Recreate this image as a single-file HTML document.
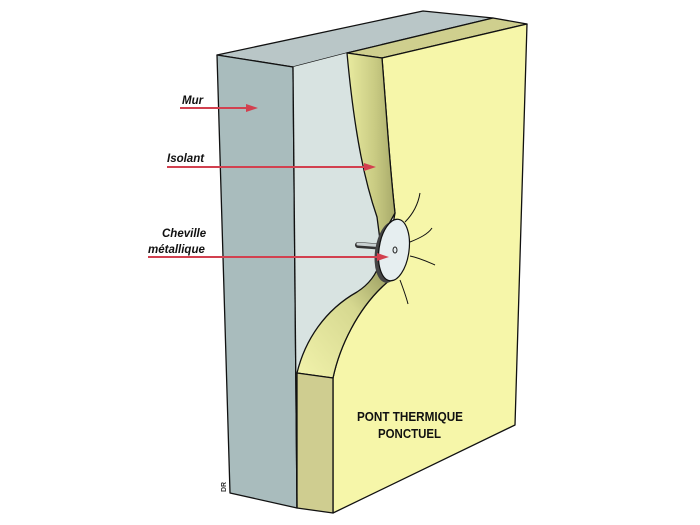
<!DOCTYPE html>
<html><head><meta charset="utf-8"><style>
html,body{margin:0;padding:0;background:#fff;}
svg{display:block;}
text{font-family:"Liberation Sans",sans-serif;font-weight:bold;}
</style></head><body>
<svg width="700" height="525" viewBox="0 0 700 525">
<defs>
<linearGradient id="cut" x1="0" y1="0" x2="1" y2="0">
<stop offset="0" stop-color="#e9eba0"/><stop offset="0.6" stop-color="#c8ca82"/><stop offset="1" stop-color="#a8aa6a"/>
</linearGradient>
<linearGradient id="cut2" x1="0" y1="1" x2="1" y2="0">
<stop offset="0" stop-color="#f2f3ac"/><stop offset="0.6" stop-color="#d6d890"/><stop offset="1" stop-color="#8f9258"/>
</linearGradient>
</defs>
<g stroke="#111" stroke-width="1.3" stroke-linejoin="round">
<polygon points="217,55 423,11 493,18 347,53 293,67" fill="#b9c6c7"/>
<polygon points="217,55 293,67 297,508 230,493" fill="#a9bcbd"/>
<polygon points="293,67 347,53 385,220 390,270 362,300 335,330 300,378 297,508" fill="#d8e3e1" stroke="none"/>
<polygon points="347,53 493,18 527,24 382,58" fill="#cfcf8e"/>
<path d="M382,58 L527,24 L515,425 L333,513 L333,378 C340,345 358,310 382,287 L395,213 C390,170 387,120 382,58 Z" fill="#f6f6a9"/>
<path d="M347,53 L382,58 C387,120 390,170 395,213 L380,240 L377,217 C366,185 355,140 347,53 Z" fill="url(#cut)"/>
<path d="M380,262 L392,278 L382,287 C358,310 340,345 333,378 L297,373 C305,340 325,310 357,292 C368,285 376,276 380,262 Z" fill="url(#cut2)"/>
<polygon points="297,373 333,378 333,513 297,508" fill="#cfcd90"/>
<line x1="293" y1="67" x2="297" y2="508"/>
</g>
<line x1="358" y1="245" x2="385" y2="247" stroke="#333" stroke-width="6" stroke-linecap="round"/>
<line x1="358" y1="244" x2="385" y2="246" stroke="#c8d0d0" stroke-width="3" stroke-linecap="round"/>
<ellipse cx="390" cy="252" rx="15" ry="31" fill="#444" transform="rotate(8 390 252)"/>
<ellipse cx="394" cy="250" rx="15" ry="31" fill="#e6eef0" stroke="#111" stroke-width="1.2" transform="rotate(8 394 250)"/>
<ellipse cx="395" cy="250" rx="2" ry="3" fill="none" stroke="#222"/>
<g fill="none" stroke="#111" stroke-width="1">
<path d="M405,222 C412,215 418,205 420,193"/>
<path d="M410,242 C420,238 428,234 432,228"/>
<path d="M410,256 C420,258 428,262 435,265"/>
<path d="M400,280 C403,288 406,296 408,304"/>
</g>
<g stroke="#d2404f" stroke-width="2" fill="#d2404f">
<line x1="180" y1="108" x2="250" y2="108"/>
<polygon points="258,108 246,104 246,112" stroke="none"/>
<line x1="167" y1="167" x2="368" y2="167"/>
<polygon points="376,167 364,163 364,171" stroke="none"/>
<line x1="148" y1="257" x2="381" y2="257"/>
<polygon points="389,257 377,253 377,261" stroke="none"/>
</g>
<g font-style="italic" font-size="11.5" fill="#111">
<text x="182" y="104">Mur</text>
<text x="167" y="162">Isolant</text>
<text x="162" y="237">Cheville</text>
<text x="148" y="253">métallique</text>
</g>
<text x="357" y="421" font-size="13" fill="#111" textLength="106" lengthAdjust="spacingAndGlyphs">PONT THERMIQUE</text>
<text x="378" y="438" font-size="13" fill="#111" textLength="63" lengthAdjust="spacingAndGlyphs">PONCTUEL</text>
<text x="0" y="0" font-size="7" fill="#333" transform="translate(226,492) rotate(-90)">DR</text>
</svg>
</body></html>
